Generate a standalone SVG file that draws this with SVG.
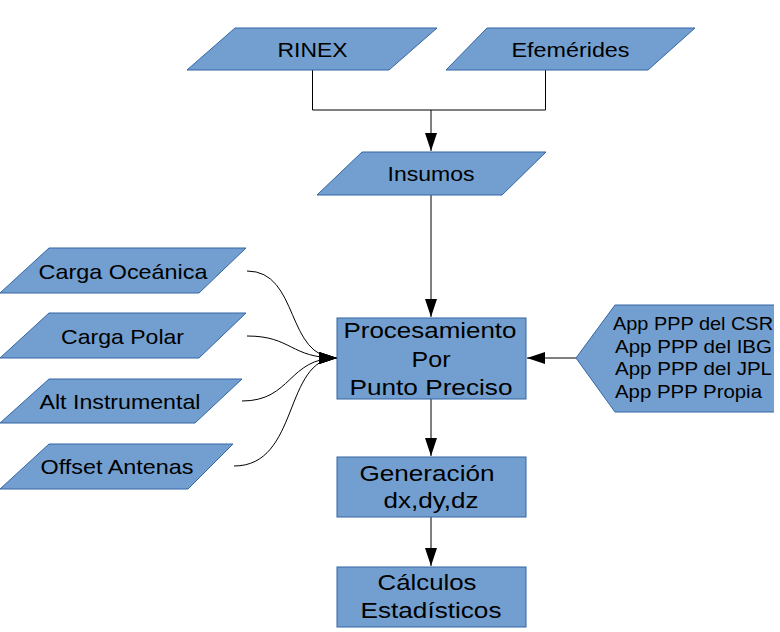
<svg xmlns="http://www.w3.org/2000/svg" width="780" height="632" viewBox="0 0 780 632">
<style>
.shape{fill:#729fcf;stroke:#3465a4;stroke-width:1}
.t{font-family:"Liberation Sans",Arial,sans-serif;fill:#000;text-anchor:middle}
.s21{font-size:21px}
.s22{font-size:22px}
.s18{font-size:18px;text-anchor:start}
.c{fill:none;stroke:#000;stroke-width:1}
</style>
<defs>
<marker id="ah" markerUnits="userSpaceOnUse" markerWidth="18" markerHeight="12" refX="18" refY="6" orient="auto" viewBox="0 0 18 12">
<path d="M0,0 L18,6 L0,12 z" fill="#000"/>
</marker>
<clipPath id="clipR"><rect x="0" y="0" width="774" height="632"/></clipPath>
</defs>
<rect width="780" height="632" fill="#fff"/>

<g id="connectors">
<path class="c" d="M312.5,70 V110 H545.5 V70"/>
<path class="c" d="M431,110 V151" marker-end="url(#ah)"/>
<path class="c" d="M431,195 V317" marker-end="url(#ah)"/>
<path class="c" d="M431,399 V456" marker-end="url(#ah)"/>
<path class="c" d="M431,517 V566" marker-end="url(#ah)"/>
<path class="c" d="M576,358 H527" marker-end="url(#ah)"/>
<path class="c" d="M247,271 C300,271 285,358 337,358" marker-end="url(#ah)"/>
<path class="c" d="M247,336 C292,336 290,358 337,358" marker-end="url(#ah)"/>
<path class="c" d="M242,401 C292,401 288,358 337,358" marker-end="url(#ah)"/>
<path class="c" d="M234,466 C300,466 283,358 337,358" marker-end="url(#ah)"/>
</g>

<g id="rinex">
<polygon class="shape" points="235,28 437,28 389,70 187,70"/>
<text class="t s21" x="312.5" y="57" textLength="70" lengthAdjust="spacingAndGlyphs">RINEX</text>
</g>
<g id="efemerides">
<polygon class="shape" points="487,28 695,28 648,70 446,70"/>
<text class="t s21" x="570.5" y="57" textLength="118" lengthAdjust="spacingAndGlyphs">Efemérides</text>
</g>
<g id="insumos">
<polygon class="shape" points="362,152 546,152 502,195 317,195"/>
<text class="t s21" x="431" y="181" textLength="87" lengthAdjust="spacingAndGlyphs">Insumos</text>
</g>

<g id="carga-oceanica">
<polygon class="shape" points="49,248 246,248 199,293 0,293"/>
<text class="t s21" x="123" y="279" textLength="169" lengthAdjust="spacingAndGlyphs">Carga Oceánica</text>
</g>
<g id="carga-polar">
<polygon class="shape" points="49,313 246,313 199,358 0,358"/>
<text class="t s21" x="122.5" y="344" textLength="123" lengthAdjust="spacingAndGlyphs">Carga Polar</text>
</g>
<g id="alt-instrumental">
<polygon class="shape" points="49,379 242,379 195,423 0,423"/>
<text class="t s21" x="120" y="409" textLength="161" lengthAdjust="spacingAndGlyphs">Alt Instrumental</text>
</g>
<g id="offset-antenas">
<polygon class="shape" points="49,444 233,444 188,489 0,489"/>
<text class="t s21" x="117" y="473.5" textLength="153" lengthAdjust="spacingAndGlyphs">Offset Antenas</text>
</g>

<g id="procesamiento">
<rect class="shape" x="337" y="318" width="189" height="81"/>
<text class="t s22" x="430" y="338" textLength="173" lengthAdjust="spacingAndGlyphs">Procesamiento</text>
<text class="t s22" x="431" y="367" textLength="39" lengthAdjust="spacingAndGlyphs">Por</text>
<text class="t s22" x="431" y="395" textLength="163" lengthAdjust="spacingAndGlyphs">Punto Preciso</text>
</g>

<g id="apps">
<polygon points="576,358 615,305 774,305 774,412 615,412" fill="#729fcf" stroke="none"/>
<path d="M774,305 H615 L576,358 L615,412 H774" fill="none" stroke="#3465a4" stroke-width="1"/>
<g clip-path="url(#clipR)">
<text class="t s18" x="613" y="330" textLength="160" lengthAdjust="spacingAndGlyphs">App PPP del CSR</text>
<text class="t s18" x="615" y="352.5" textLength="157" lengthAdjust="spacingAndGlyphs">App PPP del IBG</text>
<text class="t s18" x="615" y="375" textLength="157" lengthAdjust="spacingAndGlyphs">App PPP del JPL</text>
<text class="t s18" x="615" y="398" textLength="147" lengthAdjust="spacingAndGlyphs">App PPP Propia</text>
</g>
</g>

<g id="generacion">
<rect class="shape" x="337" y="457" width="189" height="60"/>
<text class="t s22" x="427" y="481" textLength="135" lengthAdjust="spacingAndGlyphs">Generación</text>
<text class="t s22" x="431" y="508" textLength="95" lengthAdjust="spacingAndGlyphs">dx,dy,dz</text>
</g>

<g id="calculos">
<rect class="shape" x="337" y="567" width="189" height="60"/>
<text class="t s22" x="427" y="590" textLength="99" lengthAdjust="spacingAndGlyphs">Cálculos</text>
<text class="t s22" x="431" y="618" textLength="141" lengthAdjust="spacingAndGlyphs">Estadísticos</text>
</g>
</svg>
